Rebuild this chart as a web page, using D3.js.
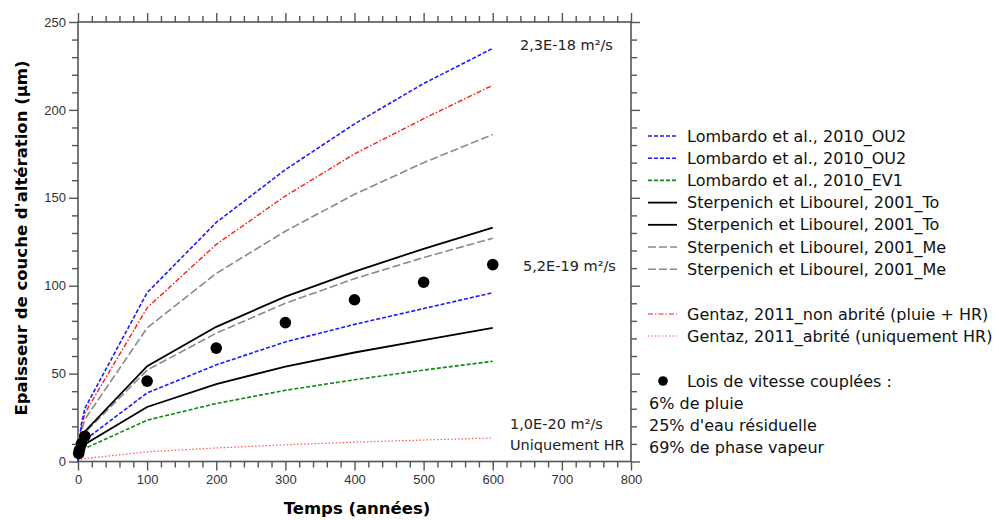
<!DOCTYPE html>
<meta charset="utf-8">
<style>
body { margin: 0; background: #fff; }
svg { font-family: "DejaVu Sans", Verdana, sans-serif; }
.frame { stroke: #555; stroke-width: 1.6; fill: none; }
.tick-lab { font-size: 13px; fill: #333; }
.title { font-size: 16.5px; font-weight: bold; fill: #000; }
.leg { font-size: 16px; fill: #111; }
.note { font-size: 14.5px; fill: #222; }
</style>
<svg width="999" height="520"></svg>
<script src="https://d3js.org/d3.v7.min.js"></script>
<script>

var svg = d3.select("svg");

// time (years)
var years = [0, 1, 5, 10, 100, 200, 300, 400, 500, 600];

var lombardoOU2a   = [0, 9.6, 21.5, 30.3, 96, 136, 166, 192, 215, 235];
var gentazNonAbri  = [0, 8.7, 19.5, 27.6, 87.4, 123.5, 151, 175, 195, 214];
var sterpMeA       = [0, 7.6, 17, 24, 76, 107, 131, 152, 170, 186];
var sterpToA       = [0, 5.4, 12.1, 17.1, 54.2, 76.6, 93.8, 108, 121, 133];
var sterpMeB       = [0, 5.2, 11.6, 16.4, 52, 73, 90, 104, 116, 127];
var lombardoOU2b   = [0, 3.9, 8.7, 12.3, 39, 55, 68, 78, 87, 96];
var sterpToB       = [0, 3.1, 6.9, 9.8, 31, 44, 54, 62, 69, 76];
var lombardoEV1    = [0, 2.3, 5.2, 7.4, 23.5, 33, 40.5, 46.5, 52, 57];
var gentazAbri     = [0, 0.55, 1.2, 1.7, 5.5, 7.7, 9.5, 11, 12.2, 13.4];

// coupled rate laws (dots)
var dotYears = [1, 2, 5, 10, 100, 200, 300, 400, 500, 600];
var dotVals  = [4.6, 6.5, 10.2, 14.4, 45.7, 64.5, 79, 92, 102, 112];

var legendLabels = [
  "Lombardo et al., 2010_OU2",
  "Lombardo et al., 2010_OU2",
  "Lombardo et al., 2010_EV1",
  "Sterpenich et Libourel, 2001_To",
  "Sterpenich et Libourel, 2001_To",
  "Sterpenich et Libourel, 2001_Me",
  "Sterpenich et Libourel, 2001_Me"
];
var gentazLabels = [
  "Gentaz, 2011_non abrité (pluie + HR)",
  "Gentaz, 2011_abrité (uniquement HR)"
];
var dotLabels = ["6% de pluie", "25% d'eau résiduelle", "69% de phase vapeur"];

var styles = {
  blue:   {color: "#1a1aff", dash: "4,2", width: 1.6},
  green:  {color: "#108a10", dash: "4,2", width: 1.6},
  black:  {color: "#000", dash: null, width: 1.8},
  gray:   {color: "#8a8a8a", dash: "8,3", width: 1.6},
  redDD:  {color: "#ff1a1a", dash: "5,2,1.5,2", width: 1.4},
  redDot: {color: "#ff5555", dash: "1.5,2", width: 1.2}
};

var series = [
  {vals: lombardoOU2a, st: styles.blue},
  {vals: gentazNonAbri, st: styles.redDD},
  {vals: sterpMeA, st: styles.gray},
  {vals: sterpToA, st: styles.black},
  {vals: sterpMeB, st: styles.gray},
  {vals: lombardoOU2b, st: styles.blue},
  {vals: sterpToB, st: styles.black},
  {vals: lombardoEV1, st: styles.green},
  {vals: gentazAbri, st: styles.redDot}
];

var x = d3.scaleLinear().domain([0, 800]).range([78, 631]);
var y = d3.scaleLinear().domain([0, 250]).range([461.5, 22]);

// axes: bottom and left labelled, top and right only ticks
function styleAxis(g) {
  g.select(".domain").remove();
  g.selectAll(".tick line").attr("stroke", "#555").attr("stroke-width", 1.4);
  g.selectAll(".tick text").attr("class", "tick-lab").attr("font-size", null).attr("font-family", null);
}
function minorTicks(g) {
  g.selectAll(".tick line").attr("stroke", "#555").attr("stroke-width", 1.4);
  g.select(".domain").remove();
  g.selectAll(".tick text").remove();
}

var xMaj = d3.range(0, 801, 100), xMin = d3.range(0, 801, 20).filter(function(d){ return d % 100; });
var yMaj = d3.range(0, 251, 50), yMin = d3.range(0, 251, 10).filter(function(d){ return d % 50; });

svg.append("g").attr("transform", "translate(0," + y(0) + ")")
  .call(d3.axisBottom(x).tickValues(xMaj).tickSize(9).tickPadding(4)).call(styleAxis);
svg.append("g").attr("transform", "translate(0," + y(0) + ")")
  .call(d3.axisBottom(x).tickValues(xMin).tickSize(6)).call(minorTicks);
svg.append("g").attr("transform", "translate(0," + y(250) + ")")
  .call(d3.axisTop(x).tickValues(xMaj).tickSize(9)).call(minorTicks);
svg.append("g").attr("transform", "translate(0," + y(250) + ")")
  .call(d3.axisTop(x).tickValues(xMin).tickSize(6)).call(minorTicks);

svg.append("g").attr("transform", "translate(" + x(0) + ",0)")
  .call(d3.axisLeft(y).tickValues(yMaj).tickSize(9).tickPadding(3)).call(styleAxis);
svg.append("g").attr("transform", "translate(" + x(0) + ",0)")
  .call(d3.axisLeft(y).tickValues(yMin).tickSize(6)).call(minorTicks);
svg.append("g").attr("transform", "translate(" + x(800) + ",0)")
  .call(d3.axisRight(y).tickValues(yMaj).tickSize(9)).call(minorTicks);
svg.append("g").attr("transform", "translate(" + x(800) + ",0)")
  .call(d3.axisRight(y).tickValues(yMin).tickSize(6)).call(minorTicks);

svg.append("rect").attr("class", "frame")
  .attr("x", x(0)).attr("y", y(250))
  .attr("width", x(800) - x(0)).attr("height", y(0) - y(250));

// lines
var line = d3.line()
  .x(function(d, i) { return x(years[i]); })
  .y(function(d) { return y(d); });

svg.append("g").selectAll("path")
  .data(series.slice().reverse())
  .enter().append("path")
  .attr("d", function(d) { return line(d.vals); })
  .attr("fill", "none")
  .attr("stroke", function(d) { return d.st.color; })
  .attr("stroke-width", function(d) { return d.st.width; })
  .attr("stroke-dasharray", function(d) { return d.st.dash; });

svg.append("g").selectAll("circle")
  .data(dotVals)
  .enter().append("circle")
  .attr("cx", function(d, i) { return x(dotYears[i]); })
  .attr("cy", function(d) { return y(d); })
  .attr("r", 5.8)
  .attr("fill", "#000");

// annotations
svg.append("text").attr("class", "note").attr("x", 520).attr("y", 50).text("2,3E-18 m²/s");
svg.append("text").attr("class", "note").attr("x", 523).attr("y", 271).text("5,2E-19 m²/s");
svg.append("text").attr("class", "note").attr("x", 510).attr("y", 429).text("1,0E-20 m²/s");
svg.append("text").attr("class", "note").attr("x", 510).attr("y", 450).text("Uniquement HR");

// axis titles
svg.append("text").attr("class", "title")
  .attr("text-anchor", "middle")
  .attr("x", 357).attr("y", 514)
  .text("Temps (années)");
svg.append("text").attr("class", "title")
  .attr("text-anchor", "middle")
  .attr("transform", "translate(27,238) rotate(-90)")
  .text("Epaisseur de couche d'altération (µm)");

// legend
var legStyles = [styles.blue, styles.blue, styles.green, styles.black, styles.black, styles.gray, styles.gray];
var leg = svg.append("g");
legendLabels.forEach(function(lab, i) {
  var yy = 136 + i * 22.2;
  leg.append("line").attr("x1", 648).attr("x2", 677).attr("y1", yy).attr("y2", yy)
    .attr("stroke", legStyles[i].color).attr("stroke-width", legStyles[i].width)
    .attr("stroke-dasharray", legStyles[i].dash);
  leg.append("text").attr("class", "leg").attr("x", 687).attr("y", yy + 5.5).text(lab);
});
var gStyles = [styles.redDD, styles.redDot];
gentazLabels.forEach(function(lab, i) {
  var yy = 314 + i * 22;
  leg.append("line").attr("x1", 648).attr("x2", 677).attr("y1", yy).attr("y2", yy)
    .attr("stroke", gStyles[i].color).attr("stroke-width", 1.1)
    .attr("stroke-dasharray", gStyles[i].dash);
  leg.append("text").attr("class", "leg").attr("x", 687).attr("y", yy + 5.5).text(lab);
});
leg.append("circle").attr("cx", 663).attr("cy", 381).attr("r", 4.8).attr("fill", "#000");
leg.append("text").attr("class", "leg").attr("x", 687).attr("y", 386.5).text("Lois de vitesse couplées :");
dotLabels.forEach(function(lab, i) {
  leg.append("text").attr("class", "leg").attr("x", 649).attr("y", 408.5 + i * 22).text(lab);
});

</script>
